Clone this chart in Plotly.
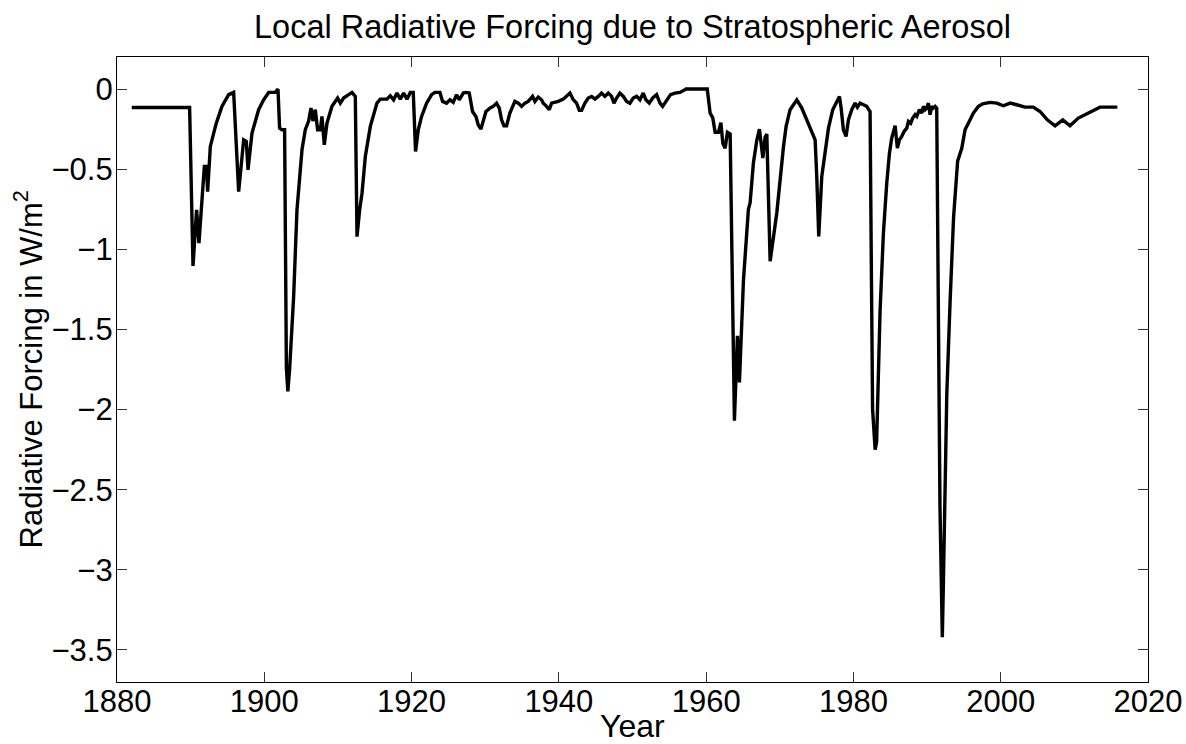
import plotly.graph_objects as go

years = [
    1882.00, 1889.86, 1890.32, 1890.81, 1891.13, 1891.86, 1892.13, 1892.31, 1892.67, 1893.48,
    1894.25, 1895.16, 1895.84, 1895.97, 1896.52, 1897.20, 1897.56, 1897.79, 1898.33, 1899.23,
    1899.91, 1900.59, 1901.50, 1901.86, 1902.08, 1902.40, 1902.76, 1903.00, 1903.20, 1903.45,
    1903.98, 1904.44, 1904.80, 1905.12, 1905.57, 1906.02, 1906.34, 1906.61, 1906.93, 1907.24,
    1907.61, 1907.83, 1908.15, 1908.51, 1909.19, 1909.96, 1910.32, 1910.77, 1911.45, 1911.91,
    1912.36, 1912.59, 1912.95, 1913.27, 1913.72, 1914.40, 1915.30, 1915.75, 1916.66, 1917.11,
    1917.56, 1918.02, 1918.47, 1918.92, 1919.38, 1919.83, 1920.23, 1920.54, 1920.91, 1921.36,
    1922.04, 1922.72, 1923.17, 1923.85, 1924.21, 1924.75, 1925.21, 1925.66, 1926.11, 1926.47,
    1927.02, 1927.38, 1927.83, 1928.28, 1928.74, 1929.05, 1929.42, 1929.73, 1930.10, 1930.64,
    1931.09, 1931.54, 1931.91, 1932.22, 1932.54, 1932.90, 1933.35, 1934.03, 1934.49, 1934.94,
    1935.39, 1935.84, 1936.43, 1936.75, 1937.20, 1937.65, 1937.88, 1938.33, 1938.70, 1939.01,
    1939.47, 1939.92, 1940.60, 1941.05, 1941.50, 1941.96, 1942.41, 1942.77, 1943.09, 1943.54,
    1943.99, 1944.45, 1944.90, 1945.35, 1945.80, 1946.26, 1946.71, 1947.16, 1947.48, 1947.84,
    1948.29, 1948.75, 1949.20, 1949.65, 1950.10, 1950.56, 1951.01, 1951.46, 1951.82, 1952.28,
    1952.73, 1953.27, 1953.73, 1954.09, 1954.63, 1955.17, 1955.76, 1956.44, 1957.12, 1957.26,
    1960.15, 1960.54, 1960.90, 1961.22, 1961.67, 1962.00, 1962.27, 1962.58, 1962.89, 1963.26,
    1963.84, 1964.25, 1964.52, 1965.07, 1965.74, 1965.97, 1966.42, 1966.88, 1967.24, 1967.70,
    1968.01, 1968.24, 1968.69, 1969.60, 1970.50, 1970.86, 1971.40, 1972.31, 1972.99, 1973.67,
    1974.34, 1974.80, 1975.02, 1975.29, 1975.70, 1976.15, 1976.61, 1977.19, 1977.74, 1978.10,
    1978.33, 1978.64, 1979.00, 1979.32, 1979.77, 1980.23, 1980.54, 1980.90, 1981.36, 1981.81,
    1982.04, 1982.26, 1982.45, 1982.60, 1982.95, 1983.15, 1983.62, 1984.07, 1984.52, 1984.89,
    1985.20, 1985.66, 1985.97, 1986.24, 1986.56, 1986.88, 1987.24, 1987.47, 1987.78, 1988.05,
    1988.37, 1988.60, 1988.96, 1989.28, 1989.50, 1989.73, 1989.95, 1990.18, 1990.41, 1990.63,
    1990.86, 1991.09, 1991.31, 1991.45, 1991.75, 1991.97, 1992.07, 1992.18, 1992.68, 1993.13,
    1993.60, 1994.15, 1994.40, 1994.71, 1995.16, 1995.61, 1996.29, 1996.97, 1997.56, 1998.55,
    1999.46, 2000.36, 2001.27, 2002.17, 2003.30, 2004.43, 2005.34, 2006.33, 2007.38, 2008.42,
    2009.41, 2010.54, 2011.45, 2012.58, 2013.48, 2015.84,
]

forcing = [
    -0.115, -0.115, -1.104, -0.754, -0.962, -0.483, -0.483, -0.640, -0.358, -0.213,
    -0.108, -0.035, -0.021, -0.140, -0.640, -0.317, -0.327, -0.504, -0.275, -0.129,
    -0.067, -0.021, -0.021, 0.000, -0.244, -0.254, -0.254, -1.740, -1.886, -1.740,
    -1.300, -0.754, -0.546, -0.379, -0.254, -0.200, -0.119, -0.200, -0.129, -0.254,
    -0.254, -0.171, -0.348, -0.213, -0.108, -0.056, -0.088, -0.056, -0.035, -0.021,
    -0.046, -0.921, -0.754, -0.650, -0.421, -0.233, -0.088, -0.063, -0.063, -0.042,
    -0.067, -0.025, -0.063, -0.025, -0.063, -0.021, -0.021, -0.390, -0.254, -0.171,
    -0.088, -0.035, -0.021, -0.021, -0.077, -0.088, -0.067, -0.083, -0.035, -0.067,
    -0.025, -0.021, -0.025, -0.140, -0.171, -0.223, -0.250, -0.192, -0.140, -0.119,
    -0.108, -0.088, -0.119, -0.192, -0.229, -0.229, -0.150, -0.077, -0.088, -0.108,
    -0.088, -0.077, -0.046, -0.077, -0.050, -0.067, -0.088, -0.108, -0.129, -0.088,
    -0.083, -0.077, -0.063, -0.046, -0.025, -0.067, -0.088, -0.133, -0.133, -0.088,
    -0.056, -0.046, -0.063, -0.046, -0.025, -0.046, -0.025, -0.046, -0.088, -0.056,
    -0.025, -0.046, -0.077, -0.088, -0.056, -0.046, -0.067, -0.025, -0.067, -0.088,
    -0.056, -0.035, -0.088, -0.108, -0.067, -0.035, -0.025, -0.021, -0.004, 0.000,
    0.000, -0.150, -0.180, -0.270, -0.270, -0.210, -0.340, -0.370, -0.270, -0.280,
    -2.070, -1.540, -1.830, -1.190, -0.750, -0.710, -0.460, -0.320, -0.250, -0.430,
    -0.300, -0.280, -1.075, -0.770, -0.360, -0.233, -0.129, -0.067, -0.119, -0.192,
    -0.265, -0.317, -0.546, -0.920, -0.546, -0.379, -0.244, -0.129, -0.077, -0.046,
    -0.119, -0.254, -0.296, -0.192, -0.129, -0.088, -0.113, -0.088, -0.098, -0.108,
    -0.125, -0.140, -1.200, -2.000, -2.250, -2.200, -1.380, -0.900, -0.590, -0.400,
    -0.306, -0.229, -0.369, -0.317, -0.296, -0.265, -0.244, -0.202, -0.213, -0.181,
    -0.160, -0.171, -0.129, -0.150, -0.108, -0.129, -0.119, -0.088, -0.160, -0.108,
    -0.119, -0.108, -0.119, -1.100, -2.600, -3.170, -3.420, -3.170, -1.900, -1.320,
    -0.800, -0.450, -0.410, -0.370, -0.254, -0.213, -0.150, -0.108, -0.092, -0.083,
    -0.088, -0.104, -0.088, -0.098, -0.113, -0.113, -0.140, -0.192, -0.229, -0.192,
    -0.229, -0.181, -0.160, -0.135, -0.113, -0.113,
]

x_ticks = [1880, 1900, 1920, 1940, 1960, 1980, 2000, 2020]
x_tick_labels = ["1880", "1900", "1920", "1940", "1960", "1980", "2000", "2020"]
y_ticks = [0, -0.5, -1, -1.5, -2, -2.5, -3, -3.5]
y_tick_labels = ["0", "\u22120.5", "\u22121", "\u22121.5", "\u22122", "\u22122.5", "\u22123", "\u22123.5"]

title_text = "Local Radiative Forcing due to Stratospheric Aerosol"
x_label = "Year"
y_label = "Radiative Forcing in W/m<sup>2</sup>"

FONT = "Liberation Sans, Arial, Helvetica, sans-serif"
W, H = 1186, 744
L, R, T, B = 117, 38, 57, 62
PW, PH = W - L - R, H - T - B

fig = go.Figure()
fig.add_trace(go.Scatter(
    x=years, y=forcing, mode="lines",
    line=dict(color="black", width=3.4),
    showlegend=False, hoverinfo="x+y",
))

axis_common = dict(
    showline=True, linecolor="black", linewidth=1.3, mirror="allticks",
    ticks="inside", ticklen=10, tickwidth=1, tickcolor="#333333",
    showgrid=False, zeroline=False, automargin=False,
    tickfont=dict(family=FONT, size=31, color="black"),
)

fig.update_layout(
    width=W, height=H,
    margin=dict(l=L, r=R, t=T, b=B),
    paper_bgcolor="white", plot_bgcolor="white",
    title=dict(
        text=title_text,
        font=dict(family=FONT, size=32.5, color="black"),
        x=0.5, xref="paper", xanchor="center",
        y=1 - 27 / H, yref="container", yanchor="middle",
    ),
    xaxis=dict(
        range=[1880, 2020], tickvals=x_ticks, ticktext=x_tick_labels,
        ticklabelstandoff=-8,
        **axis_common,
    ),
    yaxis=dict(
        range=[-3.7, 0.2], tickvals=y_ticks, ticktext=y_tick_labels,
        ticklabelstandoff=-3,
        **axis_common,
    ),
    annotations=[
        dict(text=x_label, showarrow=False, xref="paper", yref="paper",
             x=0.5, y=-(726 - (H - B)) / PH, xanchor="center", yanchor="middle",
             font=dict(family=FONT, size=32, color="black")),
        dict(text=y_label, showarrow=False, xref="paper", yref="paper",
             x=-(L - 28) / PW, y=0.5, xanchor="center", yanchor="middle",
             textangle=-90, font=dict(family=FONT, size=31, color="black")),
    ],
)

fig.write_html("out.html")
